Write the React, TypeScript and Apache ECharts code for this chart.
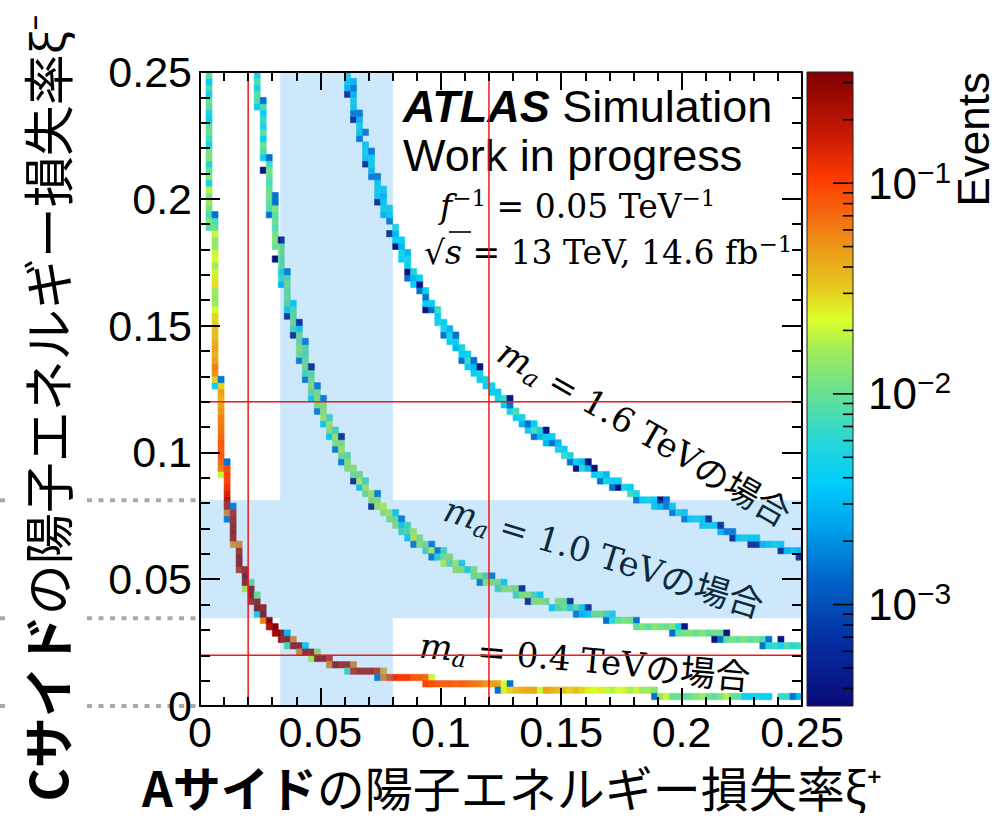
import React, { useEffect, useRef } from "react";
import * as echarts from "echarts";

// ---------------- data ----------------
// histogram bin width in xi (100 x 100 bins on [0, 0.25])
const BIN = 0.0025;
const AXIS_MAX = 0.25;
const AXIS_STEP = 0.05;

// Cells. Column runs: [ixBin, firstIyBin, events...] (events upward in xi-)
// Row runs: [iyBin, firstIxBin, events...] (events rightward in xi+). 0 = empty bin.
const ma04Cols = [
  [1, 75, 0.009, 0.012, 0.008, 0.011, 0.015, 0.013, 0.018, 0.005, 0.013, 0.009, 0.006, 0.012, 0.011, 0.005, 0.007, 0.01, 0.009, 0.004, 0.005, 0.009, 0.01, 0.005, 0.008, 0.004, 0.009],
  [2, 50, 0.004, 0.03, 0.05, 0.06, 0.045, 0.04, 0.045, 0.04, 0.035, 0.035, 0.03, 0.03, 0.022, 0.016, 0.014, 0.016, 0.028, 0.026, 0.02, 0.016, 0.022, 0.02, 0.014, 0.015, 0.02, 0.01, 0.008, 0.0015],
  [3, 36, 0.02, 0.06, 0.07, 0.08, 0.075, 0.08, 0.07, 0.065, 0.06, 0.06, 0.05, 0.045, 0.04, 0.045, 0.03, 0.0015],
  [4, 29, 0.0015, 0.06, 0.2, 0.2, 0.15, 0.12, 0.1, 0.1, 0.09, 0.0015],
  [5, 25, 0.05, 0.2, 0.25, 0.22, 0.2, 0.18, 0.0015],
  [6, 21, 0.15, 0.25, 0.25, 0.2, 0.06],
  [7, 18, 0.02, 0.25, 0.3, 0.22],
  [8, 16, 0.2, 0.3, 0.28, 0.01],
  [9, 14, 0.005, 0.3, 0.25, 0.012],
  [10, 13, 0.06, 0.3, 0.25],
  [11, 12, 0.2, 0.3],
  [12, 11, 0.25, 0.3],
];
const ma04Rows = [
  [11, 13, 0.3, 0.003],
  [10, 13, 0.25, 0.3, 0.06],
  [9, 14, 0.009, 0.25, 0.25, 0.004],
  [8, 16, 0.06, 0.25, 0.25, 0.015],
  [7, 18, 0.02, 0.25, 0.25, 0.15],
  [6, 21, 0.06, 0.25, 0.2, 0.2, 0.06],
  [5, 24, 0.008, 0.15, 0.2, 0.18, 0.2, 0.15, 0.04],
  [4, 29, 0.0015, 0.06, 0.1, 0.12, 0.11, 0.11, 0.08, 0.08, 0.07, 0.02],
  [3, 37, 0.1, 0.09, 0.08, 0.075, 0.08, 0.07, 0.075, 0.07, 0.065, 0.06, 0.05, 0.045, 0.045, 0.022, 0.0015],
  [2, 49, 0.0015, 0.025, 0.03, 0.035, 0.04, 0.042, 0.045, 0.02, 0.045, 0.04, 0.035, 0.035, 0.03, 0.035, 0.03, 0.025, 0.022, 0.025, 0.02, 0.018, 0.022, 0.02, 0.017, 0.02, 0.015, 0.016, 0.013],
  [1, 75, 0.0015, 0.015, 0.02, 0.01, 0.01, 0.009, 0.01, 0.012, 0.015, 0.01, 0.009, 0.012, 0.018, 0.01, 0.009, 0.004, 0.004, 0.005, 0.004, 0.004, 0, 0.007, 0.007, 0.0015, 0.003],
];

const ma10Cols = [
  [9, 94, 0.004, 0.008, 0.009, 0.005, 0.008, 0.005],
  [10, 84, 0.0004, 0, 0.004, 0.008, 0.01, 0.004, 0.009, 0.005, 0.007, 0.004, 0.008, 0.0015],
  [11, 77, 0.0015, 0.008, 0.009, 0.011, 0.01, 0.008, 0.009, 0.011, 0.007, 0.0015],
  [12, 70, 0.0004, 0, 0.01, 0.012, 0.011, 0.008, 0.01, 0.009, 0.012, 0.0015, 0.0015],
  [13, 66, 0.003, 0.007, 0.005, 0.01, 0.009, 0.011, 0.01, 0.0004],
  [14, 61, 0.0004, 0.004, 0.009, 0.011, 0.01, 0.012, 0.009, 0.0015],
  [15, 58, 0.0004, 0.008, 0.011, 0.01, 0.009, 0.004],
  [16, 54, 0.0015, 0.012, 0.015, 0.01, 0.012, 0.004, 0.0004],
  [17, 51, 0.0015, 0.008, 0.012, 0.011, 0.009, 0.01, 0.0015],
  [18, 48, 0.004, 0.01, 0.015, 0.012, 0.01, 0.0004],
  [19, 46, 0.0015, 0.015, 0.016, 0.013, 0.0015],
  [20, 44, 0.004, 0.018, 0.016, 0.014, 0.0015],
  [21, 42, 0.004, 0.016, 0.018, 0.008],
  [22, 40, 0.0015, 0.015, 0.018, 0.008],
  [23, 38, 0.0015, 0.012, 0.018, 0.014, 0.0004],
  [24, 37, 0.015, 0.016, 0.01],
  [25, 35, 0.0004, 0.012, 0.016],
  [26, 34, 0.004, 0.02, 0.012],
  [27, 33, 0.012, 0.018, 0.008],
  [28, 31, 0.0004, 0.015, 0.018],
  [29, 31, 0.018, 0.016, 0.0015],
  [30, 30, 0.016, 0.02],
  [31, 29, 0.014, 0.018],
  [32, 28, 0.015, 0.012, 0.004],
];
const ma10Rows = [
  [29, 33, 0.0015],
  [28, 33, 0.004, 0.008],
  [27, 33, 0.008, 0.009, 0.018],
  [26, 34, 0.004, 0.025, 0.014],
  [25, 35, 0.0015, 0.015, 0.013, 0.0015],
  [24, 37, 0.008, 0.02, 0.0015, 0.008],
  [23, 38, 0.0015, 0.006, 0.013, 0.015],
  [22, 40, 0.02, 0.009, 0.018, 0.005],
  [21, 42, 0.016, 0.015, 0.005, 0.014],
  [20, 45, 0.012, 0.015, 0.008, 0.0015],
  [19, 46, 0.0015, 0.016, 0.015, 0.013, 0.004],
  [18, 49, 0.008, 0.015, 0.016, 0.013, 0.0004],
  [17, 52, 0.008, 0.015, 0.016, 0.008, 0.004],
  [16, 54, 0.0004, 0.014, 0.016, 0.013, 0, 0.015, 0.012, 0.0004],
  [15, 58, 0.004, 0.009, 0.013, 0.006, 0.011, 0.004, 0.0004],
  [14, 62, 0.0015, 0.003, 0.004, 0.012, 0.013, 0.008, 0.005],
  [13, 67, 0.0015, 0.006, 0.01, 0.012, 0.011, 0.0015],
  [12, 72, 0.01, 0.012, 0.009, 0.013, 0.011, 0.01, 0.012, 0.005, 0.0004],
  [11, 78, 0.0015, 0.009, 0.011, 0.012, 0.01, 0.013, 0.009, 0.011, 0.01, 0.0004],
  [10, 85, 0.0004, 0.0015, 0.009, 0.011, 0.01, 0.012, 0.009, 0.011, 0.008, 0.0015, 0, 0.0004],
  [9, 93, 0.0015, 0.006, 0.007, 0.005, 0.008, 0.006, 0.007],
];

const ma16Cols = [
  [24, 96, 0.0004, 0.003, 0.004, 0.005],
  [25, 92, 0.0004, 0.0015, 0.004, 0.005, 0.003, 0.0015, 0.003],
  [26, 89, 0.0015, 0.004, 0.005, 0.003, 0.0015],
  [27, 85, 0.0004, 0.004, 0.005, 0.004, 0, 0.0015],
  [28, 83, 0.0015, 0.003, 0.005, 0.004, 0.0015],
  [29, 79, 0.0004, 0.004, 0.005, 0.004, 0.0015],
  [30, 77, 0.003, 0.005, 0.004, 0.003, 0.004],
  [31, 74, 0.0004, 0, 0.0015, 0.004, 0.005],
  [32, 72, 0.0004, 0.004, 0.003, 0.005],
  [33, 70, 0.004, 0.005, 0.003, 0.004],
  [34, 67, 0.0015, 0.0004, 0.004, 0.005, 0.003],
  [35, 66, 0.004, 0.003, 0.005],
  [36, 65, 0.0015, 0.0004, 0.004],
  [37, 62, 0.0004, 0.004, 0.0015, 0.004],
  [38, 62, 0.0015, 0.004],
  [39, 60, 0.005, 0.004, 0.007],
  [40, 58, 0.0015, 0.005, 0.004],
  [41, 57, 0.004, 0.005, 0.003],
  [42, 56, 0.003, 0.004, 0.0015],
  [43, 54, 0.0015, 0.004, 0.005],
  [44, 53, 0.004, 0.007, 0.004],
  [45, 52, 0.004, 0.003, 0.0015],
  [46, 51, 0.004, 0.005, 0.0004],
  [47, 50, 0.004, 0.005],
  [48, 49, 0.004, 0.005],
  [49, 48, 0.005, 0.004],
  [50, 47, 0.004, 0.007],
  [51, 46, 0.005, 0.0015, 0.0004],
  [52, 45, 0.004, 0.008],
  [53, 44, 0.003, 0.005],
  [54, 43, 0.004, 0.0015],
  [55, 42, 0.0015, 0.008, 0.004],
  [56, 42, 0.003, 0.005],
  [57, 41, 0.003, 0.004, 0.0004],
  [58, 41, 0.0015, 0.004],
  [59, 40, 0.005, 0.003],
  [60, 39, 0.007, 0.004],
  [61, 38, 0.0015, 0.005],
  [62, 37, 0.0004, 0.004],
  [63, 37, 0.006, 0.003],
  [64, 37, 0.003, 0.0004],
  [65, 36, 0.004, 0.0004],
  [66, 35, 0.0015, 0.005],
  [67, 35, 0.005, 0.003],
  [68, 34, 0.0015, 0.004],
  [69, 34, 0.0004, 0.004],
  [70, 34, 0.005],
  [71, 33, 0.007, 0.004],
  [72, 32, 0.0015, 0.005],
  [73, 32, 0.004],
  [74, 32, 0.005],
  [75, 31, 0.004, 0.004],
  [76, 31, 0.003, 0.0004],
  [77, 31, 0.0015, 0.0015],
  [78, 30, 0.0015, 0.004],
  [79, 30, 0.005],
  [80, 29, 0.0015, 0.004],
  [81, 29, 0.004],
  [82, 29, 0.005],
  [83, 28, 0.004, 0.004],
  [84, 28, 0.005, 0.0004],
  [85, 28, 0.004],
  [86, 27, 0.003, 0.0004],
  [87, 27, 0.0015],
  [88, 26, 0.0004, 0.0015],
  [89, 26, 0.004],
  [90, 26, 0.005],
  [91, 25, 0.0004, 0.004],
  [92, 25, 0.0004, 0.004],
  [93, 25, 0.003],
  [94, 25, 0.004],
  [95, 25, 0.005],
  [96, 24, 0.0004, 0.004],
  [97, 24, 0.003],
  [98, 24, 0.004],
  [99, 23, 0.0004, 0.003],
];
const ma16Rows: number[][] = [];

// acceptance bands and cut lines (in xi)
const bandXiPlus = [0.0333, 0.0801];
const bandXiMinus = [0.0346, 0.0811];
const cutXiPlus = [0.02, 0.12];
const cutXiMinus = [0.12, 0.02];
const guideXiMinus = [0.0811, 0.0346, 0];

// colour axis (Events, log scale)
const Z_MIN = 3.3e-4;
const Z_MAX = 0.337;
const zLabelValues = [1e-3, 1e-2, 1e-1];
const zMinorValues = [
  4e-4, 5e-4, 6e-4, 7e-4, 8e-4, 9e-4,
  2e-3, 3e-3, 4e-3, 5e-3, 6e-3, 7e-3, 8e-3, 9e-3,
  2e-2, 3e-2, 4e-2, 5e-2, 6e-2, 7e-2, 8e-2, 9e-2,
  2e-1, 3e-1,
];

// palette
const PAL_POS = [0, 0.1, 0.2, 0.28, 0.35, 0.42, 0.5, 0.56, 0.61, 0.66, 0.72, 0.78, 0.83, 0.9, 1.0];
const PAL_RGB = [
  [10, 10, 120], [5, 45, 160], [0, 100, 200], [0, 160, 235], [0, 205, 250],
  [40, 215, 215], [110, 225, 140], [160, 235, 90], [220, 255, 40], [230, 200, 30],
  [235, 155, 25], [245, 100, 15], [255, 60, 0], [200, 25, 5], [128, 0, 0],
];

// ---------------- helpers ----------------
const LMIN = Math.log10(Z_MIN);
const LMAX = Math.log10(Z_MAX);

function palette(t: number): string {
  const tt = Math.max(0, Math.min(1, t));
  for (let i = 1; i < PAL_POS.length; i++) {
    if (tt <= PAL_POS[i]) {
      const f = (tt - PAL_POS[i - 1]) / (PAL_POS[i] - PAL_POS[i - 1]);
      const a = PAL_RGB[i - 1], b = PAL_RGB[i];
      const c = a.map((v, k) => Math.round(v + (b[k] - v) * f));
      return `rgb(${c[0]},${c[1]},${c[2]})`;
    }
  }
  const l = PAL_RGB[PAL_RGB.length - 1];
  return `rgb(${l[0]},${l[1]},${l[2]})`;
}
function zColor(v: number): string {
  return palette((Math.log10(v) - LMIN) / (LMAX - LMIN));
}
function expand(cols: number[][], rows: number[][]) {
  const out: number[][] = [];
  for (const r of cols) {
    for (let k = 2; k < r.length; k++) if (r[k] > 0) out.push([r[0] * BIN, (r[1] + k - 2) * BIN, r[k]]);
  }
  for (const r of rows) {
    for (let k = 2; k < r.length; k++) if (r[k] > 0) out.push([(r[1] + k - 2) * BIN, r[0] * BIN, r[k]]);
  }
  return out;
}

const SANS = "'Liberation Sans', Arial, Helvetica, sans-serif";
const SERIF = "'DejaVu Serif', serif";
const JP = "'Noto Sans CJK JP', sans-serif";
const GREEK = "'Noto Sans', 'DejaVu Sans', sans-serif";

function cellSeries(name: string, cols: number[][], rows: number[][]) {
  return {
    name,
    type: "custom",
    xAxisIndex: 0,
    yAxisIndex: 0,
    z: 2,
    dimensions: ["x", "y", "v"],
    encode: { x: 0, y: 1 },
    data: expand(cols, rows),
    renderItem: (_p: any, api: any) => {
      const x0 = api.value(0), y0 = api.value(1), v = api.value(2);
      const a = api.coord([x0, y0]);
      const b = api.coord([x0 + BIN, y0 + BIN]);
      const c = zColor(v);
      return {
        type: "rect",
        shape: { x: a[0], y: b[1], width: b[0] - a[0], height: a[1] - b[1] },
        style: { fill: c, stroke: c, lineWidth: 0.6 },
      };
    },
  };
}

function mainAxis(dim: "x" | "y", position: string, labels: boolean) {
  return {
    type: "value",
    gridIndex: 0,
    position,
    min: 0,
    max: AXIS_MAX,
    interval: AXIS_STEP,
    z: 10,
    axisLine: { show: true, onZero: false, lineStyle: { color: "#000", width: 2 } },
    axisTick: { show: true, inside: true, length: dim === "x" ? 18 : 20, lineStyle: { color: "#000", width: 2 } },
    minorTick: { show: true, splitNumber: 5, length: dim === "x" ? 9 : 10, lineStyle: { color: "#000", width: 2 } },
    splitLine: { show: false },
    minorSplitLine: { show: false },
    axisLabel: {
      show: labels,
      color: "#000",
      fontFamily: SANS,
      fontSize: 43,
      margin: dim === "x" ? 4 : 8,
      formatter: (v: number) => String(+v.toFixed(2)),
    },
  };
}

function titleRich(fs: number) {
  return {
    b: { fontSize: fs, fontFamily: JP, fontWeight: "bold" },
    n: { fontSize: fs, fontFamily: JP },
    g: { fontSize: fs - 3, fontFamily: GREEK },
  };
}

function buildOption() {
  const bandRects = [
    [0, AXIS_MAX, bandXiMinus[0], bandXiMinus[1]],
    [bandXiPlus[0], bandXiPlus[1], bandXiMinus[1], AXIS_MAX],
    [bandXiPlus[0], bandXiPlus[1], 0, bandXiMinus[0]],
  ];
  const cutLines = [
    ...cutXiPlus.map((x) => [x, 0, x, AXIS_MAX]),
    ...cutXiMinus.map((y) => [0, y, AXIS_MAX, y]),
  ];
  const zTicks = [
    ...zLabelValues.map((v) => [1, Math.log10(v), 20]),
    ...zMinorValues.map((v) => [1, Math.log10(v), 10]),
  ];

  const sup = (fs: number, raise: number, family: string) => ({
    fontSize: fs, fontFamily: family, padding: [0, 0, raise, 0],
  });

  return {
    animation: false,
    backgroundColor: "#fff",
    grid: [
      { left: 200, top: 72, width: 602, height: 634 },
      { left: 807, top: 72, width: 46, height: 634 },
    ],
    xAxis: [
      mainAxis("x", "bottom", true),
      mainAxis("x", "top", false),
      { type: "value", gridIndex: 1, min: 0, max: 1, show: false },
    ],
    yAxis: [
      mainAxis("y", "left", true),
      mainAxis("y", "right", false),
      {
        type: "value",
        gridIndex: 1,
        position: "right",
        min: LMIN,
        max: LMAX,
        axisLine: { show: false },
        axisTick: { show: false },
        splitLine: { show: false },
        axisLabel: {
          show: true,
          customValues: zLabelValues.map((v) => Math.log10(v)),
          margin: 15,
          color: "#000",
          formatter: (v: number) => `{b|10}{s|−${Math.round(-v)}}`,
          rich: {
            b: { fontSize: 44, fontFamily: SANS, color: "#000" },
            s: { fontSize: 30, fontFamily: SANS, color: "#000", padding: [0, 0, 22, 0] },
          },
        },
      },
    ],
    series: [
      cellSeries("m_a = 0.4 TeV", ma04Cols, ma04Rows),
      cellSeries("m_a = 1.0 TeV", ma10Cols, ma10Rows),
      cellSeries("m_a = 1.6 TeV", ma16Cols, ma16Rows),
      {
        name: "bands",
        type: "custom",
        xAxisIndex: 0,
        yAxisIndex: 0,
        z: 3,
        encode: { x: [0, 1], y: [2, 3] },
        data: bandRects,
        renderItem: (_p: any, api: any) => {
          const a = api.coord([api.value(0), api.value(2)]);
          const b = api.coord([api.value(1), api.value(3)]);
          return {
            type: "rect",
            shape: { x: a[0], y: b[1], width: b[0] - a[0], height: a[1] - b[1] },
            style: { fill: "rgba(51,163,235,0.25)" },
          };
        },
      },
      {
        name: "cuts",
        type: "custom",
        xAxisIndex: 0,
        yAxisIndex: 0,
        z: 4,
        encode: { x: [0, 2], y: [1, 3] },
        data: cutLines,
        renderItem: (_p: any, api: any) => {
          const a = api.coord([api.value(0), api.value(1)]);
          const b = api.coord([api.value(2), api.value(3)]);
          return {
            type: "line",
            shape: { x1: a[0], y1: a[1], x2: b[0], y2: b[1] },
            style: { stroke: "#f01818", lineWidth: 1.5 },
          };
        },
      },
      {
        name: "guides",
        type: "custom",
        xAxisIndex: 0,
        yAxisIndex: 0,
        z: 6,
        clip: false,
        encode: { x: 0, y: 1 },
        data: guideXiMinus.map((v) => [0, v]),
        renderItem: (_p: any, api: any) => {
          const p = api.coord([0, api.value(1)]);
          const st = { stroke: "#aaaaaa", lineWidth: 4, lineDash: [5, 6.5] };
          return {
            type: "group",
            children: [
              { type: "line", shape: { x1: 0, y1: p[1], x2: 8, y2: p[1] }, style: st },
              { type: "line", shape: { x1: 87, y1: p[1], x2: p[0], y2: p[1] }, style: st },
            ],
          };
        },
      },
      {
        name: "colorbar",
        type: "custom",
        xAxisIndex: 2,
        yAxisIndex: 2,
        encode: { x: [0, 2], y: [1, 3] },
        data: [[0, LMIN, 1, LMAX]],
        renderItem: (_p: any, api: any) => {
          const a = api.coord([api.value(0), api.value(1)]);
          const b = api.coord([api.value(2), api.value(3)]);
          const stops = PAL_POS.map((p) => ({ offset: p, color: palette(p) }));
          return {
            type: "rect",
            shape: { x: a[0], y: b[1], width: b[0] - a[0], height: a[1] - b[1] },
            style: {
              fill: new echarts.graphic.LinearGradient(0, 1, 0, 0, stops),
              stroke: "#222",
              lineWidth: 1,
            },
          };
        },
      },
      {
        name: "colorbarTicks",
        type: "custom",
        xAxisIndex: 2,
        yAxisIndex: 2,
        z: 5,
        encode: { x: 0, y: 1 },
        data: zTicks,
        renderItem: (_p: any, api: any) => {
          const p = api.coord([api.value(0), api.value(1)]);
          return {
            type: "line",
            shape: { x1: p[0] - api.value(2), y1: p[1], x2: p[0], y2: p[1] },
            style: { stroke: "#000", lineWidth: 1.6 },
          };
        },
      },
    ],
    graphic: [
      {
        type: "text", x: 403, y: 106, silent: true,
        style: {
          text: "{a|ATLAS} {s|Simulation}", verticalAlign: "middle", align: "left",
          fontSize: 45, fontFamily: SANS, fill: "#000",
          rich: {
            a: { fontSize: 45, fontFamily: SANS, fontWeight: "bold", fontStyle: "italic" },
            s: { fontSize: 45, fontFamily: SANS },
          },
        },
      },
      {
        type: "text", x: 403, y: 155, silent: true,
        style: { text: "Work in progress", verticalAlign: "middle", align: "left", fontSize: 45, fontFamily: SANS, fill: "#000" },
      },
      {
        type: "text", x: 440, y: 206, silent: true,
        style: {
          text: "{i|f}{u|−1}{n| = 0.05 TeV}{u|−1}", verticalAlign: "middle", align: "left",
          fontSize: 33, fontFamily: SERIF, fill: "#000",
          rich: {
            i: { fontSize: 33, fontFamily: SERIF, fontStyle: "italic" },
            n: { fontSize: 33, fontFamily: SERIF },
            u: sup(23, 17, SERIF),
          },
        },
      },
      {
        type: "text", x: 424, y: 252, silent: true,
        style: {
          text: "{n|√}{i|s}{n| = 13 TeV, 14.6 fb}{u|−1}", verticalAlign: "middle", align: "left",
          fontSize: 33, fontFamily: SERIF, fill: "#000",
          rich: {
            i: { fontSize: 33, fontFamily: SERIF, fontStyle: "italic" },
            n: { fontSize: 33, fontFamily: SERIF },
            u: sup(23, 17, SERIF),
          },
        },
      },
      {
        type: "line", silent: true,
        shape: { x1: 449, y1: 232, x2: 471, y2: 232 },
        style: { stroke: "#000", lineWidth: 1.6 },
      },
      ...[
        { t: "1.6", x: 645, y: 432, deg: 29.8 },
        { t: "1.0", x: 604, y: 556, deg: 16.6 },
        { t: "0.4", x: 585, y: 660, deg: 5 },
      ].map((l) => ({
        type: "text", x: l.x, y: l.y, rotation: (-l.deg * Math.PI) / 180, silent: true,
        style: {
          text: `{m|m}{a|a}{n| = ${l.t} TeV}{j|の場合}`, verticalAlign: "middle", align: "center",
          fontSize: 34, fontFamily: SERIF, fill: "#000",
          rich: {
            m: { fontSize: 35, fontFamily: SERIF, fontStyle: "italic" },
            a: { fontSize: 24, fontFamily: SERIF, fontStyle: "italic", padding: [20, 0, 0, 0] },
            n: { fontSize: 34, fontFamily: SERIF },
            j: { fontSize: 35, fontFamily: JP },
          },
        },
      })),
      {
        type: "text", x: 973, y: 72, rotation: Math.PI / 2, silent: true,
        style: { text: "Events", align: "right", verticalAlign: "middle", fontSize: 44, fontFamily: SANS, fill: "#000" },
      },
      {
        type: "text", x: 512, y: 786, silent: true,
        style: {
          text: "{b|Aサイド}{n|の陽子エネルギー損失率}{g|ξ⁺}", align: "center", verticalAlign: "middle",
          fontSize: 48, fontFamily: JP, fill: "#000", rich: titleRich(48),
        },
      },
      {
        type: "text", x: 46, y: 408, rotation: Math.PI / 2, silent: true,
        style: {
          text: "{b|Cサイド}{n|の陽子エネルギー損失率}{g|ξ⁻}", align: "center", verticalAlign: "middle",
          fontSize: 51, fontFamily: JP, fill: "#000", rich: titleRich(51),
        },
      },
    ],
  };
}

export default function App() {
  const ref = useRef<HTMLDivElement>(null);
  useEffect(() => {
    if (!ref.current) return;
    const chart = echarts.init(ref.current, null, { renderer: "svg" });
    chart.setOption(buildOption() as any);
    return () => chart.dispose();
  }, []);
  return (
    <div
      ref={ref}
      style={{ position: "fixed", left: 0, top: 0, width: 999, height: 822, background: "#fff" }}
    />
  );
}
